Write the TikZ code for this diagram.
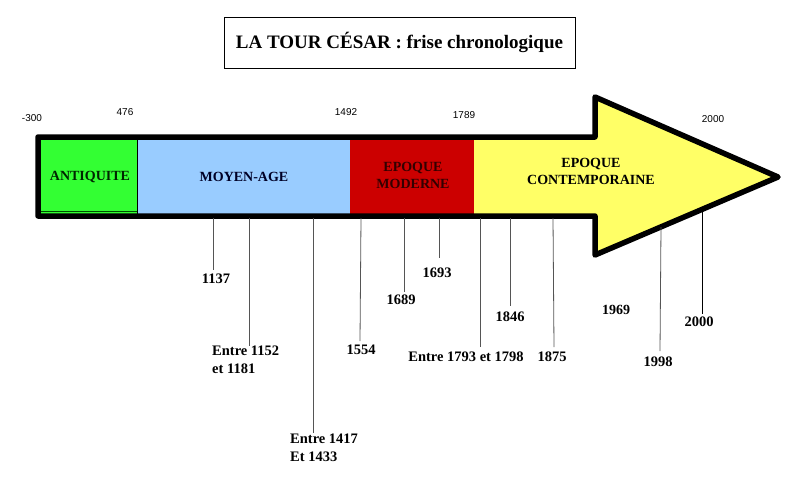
\documentclass[tikz,border=0pt]{standalone}
\usepackage{fontspec}
\setmainfont{Liberation Serif}
\newfontfamily\arialfont{Liberation Sans}
\definecolor{antgreen}{HTML}{33FF33}
\definecolor{moyblue}{HTML}{99CCFF}
\definecolor{modred}{HTML}{CC0000}
\definecolor{contyellow}{HTML}{FFFF66}
\definecolor{tickgray}{HTML}{555555}
\tikzset{
  yearlbl/.style={font=\arialfont\fontsize{10}{11}\selectfont, inner sep=0pt},
  periodlbl/.style={font=\bfseries\fontsize{14}{17}\selectfont, align=center, inner sep=0pt},
  datelbl/.style={font=\bfseries\fontsize{14.5}{17.5}\selectfont, inner sep=0pt, align=left},
  tickline/.style={draw=tickgray, line width=0.8pt},
  titlebox/.style={draw, line width=0.8pt, minimum width=351pt, minimum height=51pt, font=\bfseries\fontsize{19}{21}\selectfont}
}
\begin{document}
\begin{tikzpicture}[x=1pt,y=-1pt]
\useasboundingbox (0,0) rectangle (792,488);
% title
\node[titlebox] (title) at (399.5,42.5) {LA TOUR CÉSAR : frise chronologique};
% fills
\fill[antgreen] (38,137) rectangle (137,216);
\fill[moyblue] (137,137) rectangle (350,216);
\fill[modred] (350,137) rectangle (474,216);
\fill[contyellow] (474,137) -- (595,137) -- (595,97) -- (778,177) -- (595,255) -- (595,216) -- (474,216) -- cycle;
\draw[line width=0.6pt] (137,137) -- (137,216);
\draw[black!70!green, line width=0.6pt] (40,211) -- (137,211);
% outline
\draw[line width=5.5pt, line join=round] (38,137) -- (595,137) -- (595,97) -- (778,177) -- (595,255) -- (595,216) -- (38,216) -- cycle;
% period labels
\node[periodlbl, text=black!85!green] (ant) at (90,177) {ANTIQUITE};
\node[periodlbl, text=black!85!blue] (moy) at (244,177) {MOYEN-AGE};
\node[periodlbl, text=black!80!red] (mod) at (413,175) {EPOQUE\\MODERNE};
\node[periodlbl] (cont) at (591,171) {EPOQUE\\CONTEMPORAINE};
% year labels above
\node[yearlbl] (ym300) at (32,118) {-300};
\node[yearlbl] (y476) at (125,112) {476};
\node[yearlbl] (y1492) at (346,112) {1492};
\node[yearlbl] (y1789) at (464,115) {1789};
\node[yearlbl] (y2000) at (713,119) {2000};
% tick coordinates
\coordinate (t1137) at (213,218); \coordinate (e1137) at (213,270);
\coordinate (t1152) at (249,218); \coordinate (e1152) at (249,346);
\coordinate (t1417) at (313,218); \coordinate (e1417) at (313,433);
\coordinate (t1554) at (361,218); \coordinate (e1554) at (360,341);
\coordinate (t1689) at (404,218); \coordinate (e1689) at (404,292);
\coordinate (t1693) at (439,218); \coordinate (e1693) at (439,258);
\coordinate (t1793) at (480,218); \coordinate (e1793) at (480,347);
\coordinate (t1846) at (510,218); \coordinate (e1846) at (510,306);
\coordinate (t1875) at (553,218); \coordinate (e1875) at (554,347);
\coordinate (t1998) at (661,227); \coordinate (e1998) at (660,351);
\coordinate (t2000) at (702,211); \coordinate (e2000) at (702,314);
% date labels
\node[datelbl] (d1137) at (216,279) {1137};
\node[datelbl, anchor=north west] (d1152) at (212,346) {Entre 1152\\et 1181};
\node[datelbl, anchor=north west] (d1417) at (290,434) {Entre 1417\\Et 1433};
\node[datelbl] (d1554) at (361,350) {1554};
\node[datelbl] (d1689) at (401,300) {1689};
\node[datelbl] (d1693) at (437,273) {1693};
\node[datelbl] (d1793) at (466,357) {Entre 1793 et 1798};
\node[datelbl] (d1846) at (510,317) {1846};
\node[datelbl] (d1875) at (552,357) {1875};
\node[datelbl, font=\fontsize{14}{17}\selectfont\bfseries] (d1969) at (616,310) {1969};
\node[datelbl] (d1998) at (658,362) {1998};
\node[datelbl] (d2000) at (699,322) {2000};
% tick lines
\foreach \n in {1137,1152,1417,1554,1689,1693,1793,1846,1875,1998}
  \draw[tickline] (t\n) -- (e\n);
\draw[line width=0.8pt] (t2000) -- (e2000);
\end{tikzpicture}
\end{document}
